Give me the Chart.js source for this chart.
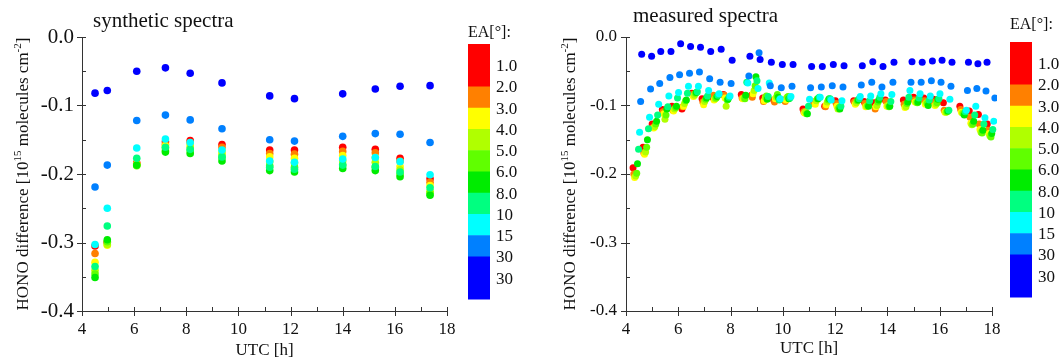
<!DOCTYPE html>
<html>
<head>
<meta charset="utf-8">
<script src="https://cdn.jsdelivr.net/npm/chart.js@4.4.1/dist/chart.umd.min.js"></script>
<style>
   html, body { margin: 0; padding: 0; background: #fff; }
   #wrap { position: relative; width: 1059px; height: 362px; overflow: hidden; }
   canvas { position: absolute; top: 0; }
</style>
</head>
<body>
<div id="wrap">
   <canvas id="synChart" width="530" height="362" style="left:0"></canvas>
   <canvas id="measChart" width="529" height="362" style="left:530px"></canvas>
</div>
<script>
const SERIF = '"Liberation Serif", "Times New Roman", serif';

// elevation angle bands (colour bar), red = lowest EA, blue = highest
const EA_LABELS = ["1.0", "2.0", "3.0", "4.0", "5.0", "6.0", "8.0", "10", "15", "30", "30"];
const EA_COLORS = ["#ff0000", "#ff8000", "#ffff00", "#b0ff00", "#60ff00", "#00ec00", "#00ff80", "#00ffff", "#0080ff", "#0000ff"];
const EA_BAND_WEIGHT = [2, 1, 1, 1, 1, 1, 1, 1, 1, 2];

// ---- synthetic spectra ----
const synUtc = [4.5, 4.97, 6.1, 7.2, 8.15, 9.37, 11.2, 12.15, 14.0, 15.25, 16.2, 17.35];
const syn1  = [-0.305, -0.300, -0.184, -0.153, -0.151, -0.157, -0.165, -0.165, -0.161, -0.164, -0.177, -0.207];
const syn2  = [-0.316, -0.299, -0.185, -0.157, -0.154, -0.161, -0.170, -0.171, -0.167, -0.169, -0.181, -0.212];
const syn3  = [-0.329, -0.304, -0.186, -0.159, -0.157, -0.167, -0.175, -0.177, -0.173, -0.176, -0.189, -0.217];
const syn4  = [-0.341, -0.303, -0.187, -0.162, -0.161, -0.171, -0.182, -0.184, -0.181, -0.183, -0.194, -0.225];
const syn5  = [-0.346, -0.299, -0.188, -0.166, -0.166, -0.176, -0.188, -0.190, -0.187, -0.190, -0.200, -0.228];
const syn6  = [-0.351, -0.296, -0.187, -0.168, -0.170, -0.181, -0.195, -0.197, -0.192, -0.195, -0.204, -0.231];
const syn8  = [-0.335, -0.276, -0.177, -0.161, -0.164, -0.175, -0.190, -0.193, -0.187, -0.189, -0.197, -0.220];
const syn10 = [-0.303, -0.250, -0.162, -0.149, -0.154, -0.165, -0.181, -0.183, -0.178, -0.176, -0.182, -0.201];
const syn15 = [-0.219, -0.187, -0.122, -0.114, -0.121, -0.134, -0.150, -0.152, -0.145, -0.141, -0.142, -0.154];
const syn30 = [-0.082, -0.078, -0.050, -0.045, -0.053, -0.067, -0.086, -0.090, -0.083, -0.076, -0.072, -0.071];

// ---- measured spectra ----
// UTC of the last (30°) scan of each elevation sequence, and how long before it each EA was taken
const measCycleUtc = [4.60, 4.98, 5.33, 5.72, 6.09, 6.47, 6.85, 7.24, 7.64, 8.06, 8.74, 9.13, 9.56, 9.98, 10.39,
   11.10, 11.51, 11.93, 12.34, 13.04, 13.44, 13.83, 14.25, 14.94, 15.33, 15.72, 16.09, 16.47, 17.10, 17.46, 17.81, 18.15, 18.50];
const measScanLag = [-0.33, -0.30, -0.27, -0.23, -0.19, -0.16, -0.12, -0.08, -0.04, 0];
const meas1  = [-0.191, -0.161, -0.127, -0.106, -0.101, -0.105, -0.082, -0.090, -0.088, -0.084, -0.084, -0.085, -0.089, -0.092, -0.092,
   -0.105, -0.095, -0.101, -0.093, -0.093, -0.094, -0.096, -0.092, -0.092, -0.088, -0.089, -0.091, -0.096, -0.101, -0.108, -0.113, -0.127, -0.155];
const meas2  = [-0.200, -0.169, -0.132, -0.109, -0.107, -0.102, -0.084, -0.095, -0.085, -0.085, -0.089, -0.088, -0.094, -0.095, -0.094,
   -0.109, -0.097, -0.102, -0.097, -0.095, -0.097, -0.105, -0.094, -0.098, -0.092, -0.093, -0.095, -0.107, -0.106, -0.117, -0.127, -0.136];
const meas3  = [-0.205, -0.171, -0.133, -0.112, -0.108, -0.101, -0.087, -0.099, -0.092, -0.089, -0.090, -0.083, -0.093, -0.090, -0.092,
   -0.111, -0.098, -0.099, -0.101, -0.098, -0.102, -0.102, -0.101, -0.103, -0.095, -0.098, -0.100, -0.110, -0.110, -0.126, -0.135, -0.141];
const meas4  = [-0.203, -0.168, -0.131, -0.120, -0.105, -0.097, -0.085, -0.094, -0.090, -0.101, -0.089, -0.078, -0.088, -0.088, -0.088,
   -0.109, -0.093, -0.095, -0.105, -0.096, -0.101, -0.100, -0.100, -0.102, -0.095, -0.096, -0.098, -0.110, -0.111, -0.128, -0.139, -0.144];
const meas5  = [-0.199, -0.161, -0.127, -0.114, -0.103, -0.093, -0.082, -0.091, -0.089, -0.092, -0.090, -0.071, -0.086, -0.084, -0.087,
   -0.112, -0.090, -0.092, -0.103, -0.093, -0.100, -0.095, -0.102, -0.097, -0.096, -0.097, -0.096, -0.109, -0.112, -0.127, -0.140, -0.146];
const meas6  = [-0.185, -0.150, -0.123, -0.105, -0.101, -0.092, -0.081, -0.089, -0.087, -0.091, -0.085, -0.058, -0.091, -0.088, -0.090,
   -0.112, -0.090, -0.090, -0.105, -0.092, -0.101, -0.092, -0.101, -0.095, -0.095, -0.100, -0.091, -0.108, -0.114, -0.123, -0.136, -0.141];
const meas8  = [-0.164, -0.134, -0.114, -0.102, -0.089, -0.082, -0.080, -0.086, -0.085, -0.088, -0.066, -0.064, -0.087, -0.092, -0.089,
   -0.101, -0.088, -0.090, -0.101, -0.090, -0.093, -0.088, -0.094, -0.088, -0.089, -0.092, -0.090, -0.107, -0.109, -0.114, -0.127, -0.135];
const meas10 = [-0.139, -0.117, -0.098, -0.086, -0.081, -0.072, -0.072, -0.078, -0.083, -0.086, -0.067, -0.075, -0.067, -0.090, -0.087,
   -0.091, -0.088, -0.092, -0.093, -0.087, -0.086, -0.083, -0.084, -0.078, -0.083, -0.086, -0.083, -0.091, -0.107, -0.101, -0.118, -0.123];
const meas15 = [-0.094, -0.076, -0.068, -0.059, -0.055, -0.053, -0.051, -0.061, -0.066, -0.068, -0.057, -0.023, -0.071, -0.074, -0.072,
   -0.074, -0.073, -0.071, -0.073, -0.070, -0.066, -0.073, -0.066, -0.066, -0.066, -0.064, -0.066, -0.072, -0.078, -0.075, -0.079, -0.089];
const meas30 = [-0.025, -0.028, -0.021, -0.021, -0.010, -0.014, -0.015, -0.021, -0.018, -0.034, -0.028, -0.033, -0.037, -0.040, -0.040,
   -0.043, -0.043, -0.040, -0.042, -0.042, -0.036, -0.043, -0.037, -0.036, -0.037, -0.035, -0.034, -0.037, -0.037, -0.039, -0.037, -0.040];

const synSeries = [syn1, syn2, syn3, syn4, syn5, syn6, syn8, syn10, syn15, syn30];
const measSeries = [meas1, meas2, meas3, meas4, meas5, meas6, meas8, meas10, meas15, meas30];
const SERIES_NAMES = ["1.0", "2.0", "3.0", "4.0", "5.0", "6.0", "8.0", "10", "15", "30"];

Chart.defaults.font.family = SERIF;
Chart.defaults.color = "#111";

// minor ticks point in, major ticks cross the axis line
const tickMarks = {
   id: "tickMarks",
   afterDraw(chart) {
      const { ctx, chartArea } = chart;
      const xs = chart.scales.x, ys = chart.scales.y;
      ctx.save();
      ctx.strokeStyle = "#333";
      ctx.lineWidth = 1;
      ctx.beginPath();
      xs.ticks.forEach(t => {
         const px = Math.round(xs.getPixelForValue(t.value)) + 0.5;
         const major = Math.round(t.value) % 2 === 0;
         ctx.moveTo(px, chartArea.bottom + (major ? 5 : 0));
         ctx.lineTo(px, chartArea.bottom - 4);
      });
      ys.ticks.forEach(t => {
         const py = Math.round(ys.getPixelForValue(t.value)) + 0.5;
         const major = Math.round(t.value * 100) % 10 === 0;
         ctx.moveTo(chartArea.left - (major ? 5 : 0), py);
         ctx.lineTo(chartArea.left + 4, py);
      });
      ctx.stroke();
      ctx.restore();
   }
};

function drawYTitle(ctx, cx, cy) {
   const parts = [
      { t: "HONO difference [10", size: 17, rise: 0 },
      { t: "15", size: 11, rise: 7 },
      { t: " molecules cm", size: 17, rise: 0 },
      { t: "-2", size: 11, rise: 7 },
      { t: "]", size: 17, rise: 0 },
   ];
   let total = 0;
   parts.forEach(p => {
      ctx.font = `${p.size}px ${SERIF}`;
      p.w = ctx.measureText(p.t).width;
      total += p.w;
   });
   ctx.save();
   ctx.translate(cx, cy);
   ctx.rotate(-Math.PI / 2);
   ctx.textBaseline = "alphabetic";
   let x = -total / 2;
   parts.forEach(p => {
      ctx.font = `${p.size}px ${SERIF}`;
      ctx.fillText(p.t, x, 6 - p.rise);
      x += p.w;
   });
   ctx.restore();
}

// panel title, y title and the EA colour bar
const panelDecor = {
   id: "panelDecor",
   afterDraw(chart, args, o) {
      const ctx = chart.ctx;
      ctx.save();
      ctx.fillStyle = "#111";
      ctx.textAlign = "left";
      ctx.textBaseline = "alphabetic";
      ctx.font = `21px ${SERIF}`;
      ctx.fillText(o.title, o.titleX, o.titleY);

      drawYTitle(ctx, o.yTitleX, (chart.chartArea.top + chart.chartArea.bottom) / 2);

      const totalW = EA_BAND_WEIGHT.reduce((a, b) => a + b, 0);
      const unit = o.barH / totalW;
      let y = o.barY;
      EA_COLORS.forEach((c, i) => {
         const h = EA_BAND_WEIGHT[i] * unit;
         ctx.fillStyle = c;
         ctx.fillRect(o.barX, y, o.barW, h + 0.5);
         y += h;
      });
      ctx.fillStyle = "#111";
      ctx.font = `17px ${SERIF}`;
      ctx.textBaseline = "middle";
      EA_LABELS.forEach((lab, i) => {
         ctx.fillText(lab, o.barX + o.barW + 6, o.barY + (i + 1) * unit + 1.5);
      });
      ctx.textBaseline = "alphabetic";
      ctx.font = `16px ${SERIF}`;
      ctx.fillText("EA[°]:", o.barX, o.headY);
      ctx.restore();
   }
};

function buildOptions(cfg) {
   return {
      responsive: false,
      animation: false,
      devicePixelRatio: 1,
      layout: { padding: { top: 37, right: cfg.padRight, left: 0, bottom: 0 } },
      plugins: {
         legend: { display: false },
         tooltip: { enabled: false },
         panelDecor: cfg.decor,
      },
      scales: {
         x: {
            type: "linear",
            min: 4,
            max: 18,
            border: { color: "#333", width: 1 },
            grid: { drawOnChartArea: false, tickLength: 5, color: "rgba(0,0,0,0)" },
            ticks: {
               stepSize: 1,
               autoSkip: false,
               maxRotation: 0,
               padding: 3,
               color: "#111",
               font: { size: 17 },
               callback: v => (Math.round(v) % 2 === 0 ? String(v) : ""),
            },
            title: {
               display: true,
               text: "UTC [h]",
               color: "#111",
               font: { size: 17 },
               padding: { top: 0, bottom: cfg.xTitlePad },
            },
            afterFit: s => { s.height = 51; },
         },
         y: {
            type: "linear",
            min: -0.4,
            max: 0,
            border: { color: "#333", width: 1 },
            grid: { drawOnChartArea: false, tickLength: 5, color: "rgba(0,0,0,0)" },
            ticks: {
               stepSize: 0.05,
               autoSkip: false,
               padding: cfg.yTickPad,
               color: "#111",
               font: { size: cfg.yTickSize },
               callback: v => (Math.round(v * 100) % 10 === 0 ? v.toFixed(1) : ""),
            },
            afterFit: s => { s.width = cfg.yWidth; },
         },
      },
   };
}

function scatterSet(i, points, radius, clip) {
   return {
      label: SERIES_NAMES[i],
      data: points,
      backgroundColor: EA_COLORS[i],
      borderWidth: 0,
      pointRadius: radius,
      pointHoverRadius: radius,
      showLine: false,
      order: 9 - i,
      clip,
   };
}

const synSets = synSeries.map((vals, i) =>
   scatterSet(i, vals.map((v, k) => ({ x: synUtc[k], y: v })), 3.8, 5));

const measSets = measSeries.map((vals, i) =>
   scatterSet(i, vals.map((v, k) => ({ x: measCycleUtc[k] + measScanLag[i], y: v })), 3.5,
      { left: 5, top: 5, right: 5, bottom: 5 }));

new Chart(document.getElementById("synChart").getContext("2d"), {
   type: "scatter",
   data: { datasets: synSets },
   options: buildOptions({
      padRight: 83,
      yWidth: 82,
      yTickSize: 21,
      yTickPad: 3,
      xTitlePad: 1,
      decor: { title: "synthetic spectra", titleX: 93, titleY: 27, yTitleX: 22,
               barX: 468, barY: 44, barW: 22, barH: 255, headY: 37 },
   }),
   plugins: [tickMarks, panelDecor],
});

new Chart(document.getElementById("measChart").getContext("2d"), {
   type: "scatter",
   data: { datasets: measSets },
   options: buildOptions({
      padRight: 67,
      yWidth: 96,
      yTickSize: 17,
      yTickPad: 4,
      xTitlePad: 3,
      decor: { title: "measured spectra", titleX: 103, titleY: 22, yTitleX: 39,
               barX: 480, barY: 42, barW: 22, barH: 255, headY: 29 },
   }),
   plugins: [tickMarks, panelDecor],
});
</script>
</body>
</html>
